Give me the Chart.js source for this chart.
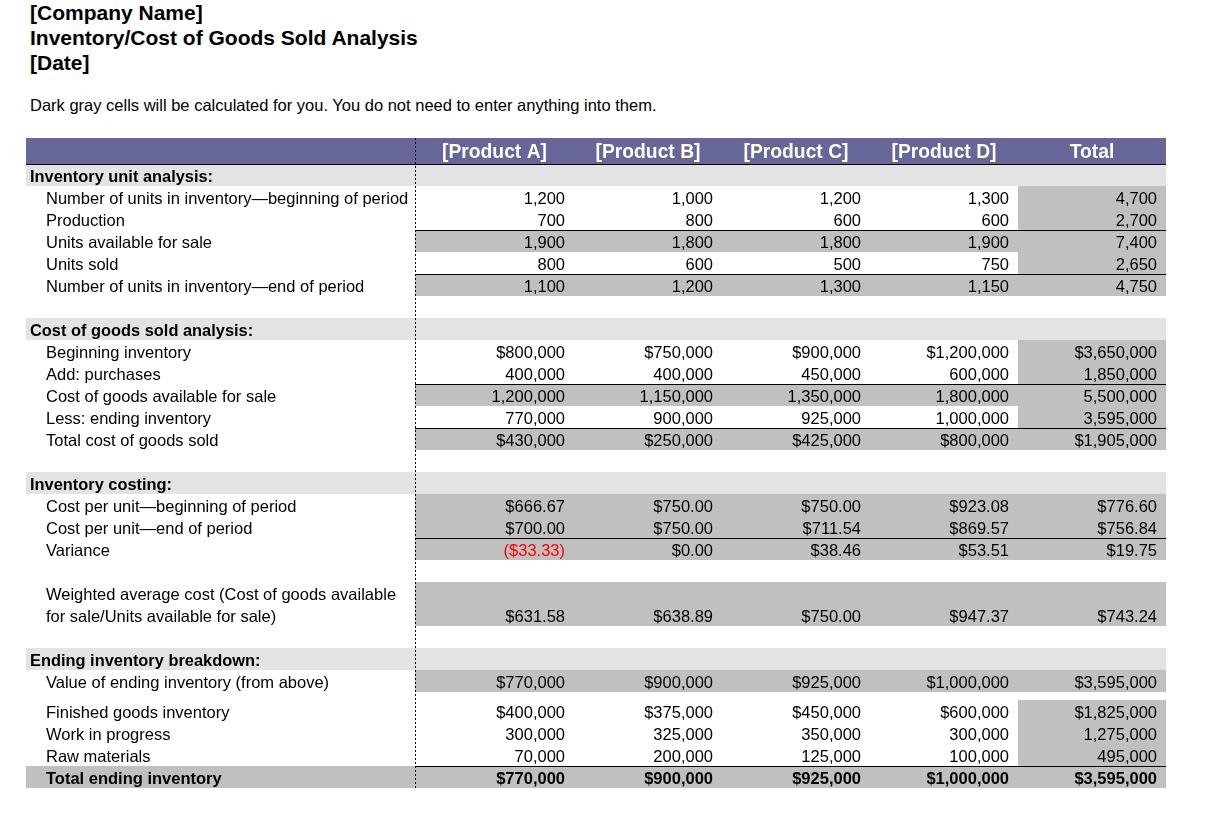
<!DOCTYPE html>
<html lang="en">
<head>
  <meta charset="UTF-8" />
  <title>Inventory/Cost of Goods Sold Analysis</title>
  <script src="https://cdn.jsdelivr.net/npm/chart.js"></script>
  <style>
    body {
      margin: 0;
      background: #fff;
      color: #000;
      font-family: 'Liberation Sans', Arial, sans-serif;
    }
    .heading {
      position: absolute;
      left: 30px;
      top: 0;
      font-size: 21px;
      font-weight: bold;
      line-height: 25px;
    }
    .note {
      position: absolute;
      left: 30px;
      top: 95px;
      font-size: 16.5px;
      line-height: 20px;
    }
    .sheet {
      position: absolute;
      left: 25px;
      top: 137px;
      width: 1142px;
      height: 652px;
    }
  </style>
</head>
<body>

  <div class="heading">[Company Name]<br>Inventory/Cost of Goods Sold Analysis<br>[Date]</div>
  <div class="note">Dark gray cells will be calculated for you. You do not need to enter anything into them.</div>
  <div class="sheet"><canvas id="sheetChart"></canvas></div>

  <script>
    const products = ['[Product A]', '[Product B]', '[Product C]', '[Product D]', 'Total'];

    // inventory unit analysis
    const unitsBegin     = [1200, 1000, 1200, 1300, 4700];
    const production     = [700, 800, 600, 600, 2700];
    const unitsAvailable = [1900, 1800, 1800, 1900, 7400];
    const unitsSold      = [800, 600, 500, 750, 2650];
    const unitsEnd       = [1100, 1200, 1300, 1150, 4750];

    // cost of goods sold analysis
    const beginInventory = [800000, 750000, 900000, 1200000, 3650000];
    const purchases      = [400000, 400000, 450000, 600000, 1850000];
    const goodsAvailable = [1200000, 1150000, 1350000, 1800000, 5500000];
    const endInventory   = [770000, 900000, 925000, 1000000, 3595000];
    const costOfSales    = [430000, 250000, 425000, 800000, 1905000];

    // inventory costing
    const costBegin   = [666.67, 750.00, 750.00, 923.08, 776.60];
    const costEnd     = [700.00, 750.00, 711.54, 869.57, 756.84];
    const variance    = [-33.33, 0.00, 38.46, 53.51, 19.75];
    const weightedAvg = [631.58, 638.89, 750.00, 947.37, 743.24];

    // ending inventory breakdown
    const endValue      = [770000, 900000, 925000, 1000000, 3595000];
    const finishedGoods = [400000, 375000, 450000, 600000, 1825000];
    const workInProcess = [300000, 325000, 350000, 300000, 1275000];
    const rawMaterials  = [70000, 200000, 125000, 100000, 495000];
    const totalEnding   = [770000, 900000, 925000, 1000000, 3595000];

    // sheet layout (column edges and row heights, in sheet units)
    const colEdges = [0, 389, 548, 696, 844, 992, 1140];
    const ROW = 22;

    const PURPLE = '#666699';
    const LIGHT = '#e3e3e3';
    const GRAY = '#c0c0c0';
    const FONT = '"Liberation Sans", Arial, sans-serif';

    const rows = [
      { kind: 'header', h: 26 },
      { kind: 'section', h: ROW, label: 'Inventory unit analysis:' },
      { h: ROW, label: 'Number of units in inventory\u2014beginning of period', values: unitsBegin, fmt: 'int', fill: 'total' },
      { h: ROW, label: 'Production', values: production, fmt: 'int', fill: 'total' },
      { h: ROW, label: 'Units available for sale', values: unitsAvailable, fmt: 'int', fill: 'values', rule: true },
      { h: ROW, label: 'Units sold', values: unitsSold, fmt: 'int', fill: 'total' },
      { h: ROW, label: 'Number of units in inventory\u2014end of period', values: unitsEnd, fmt: 'int', fill: 'values', rule: true },
      { h: ROW },
      { kind: 'section', h: ROW, label: 'Cost of goods sold analysis:' },
      { h: ROW, label: 'Beginning inventory', values: beginInventory, fmt: 'usd', fill: 'total' },
      { h: ROW, label: 'Add: purchases', values: purchases, fmt: 'int', fill: 'total' },
      { h: ROW, label: 'Cost of goods available for sale', values: goodsAvailable, fmt: 'int', fill: 'values', rule: true },
      { h: ROW, label: 'Less: ending inventory', values: endInventory, fmt: 'int', fill: 'total' },
      { h: ROW, label: 'Total cost of goods sold', values: costOfSales, fmt: 'usd', fill: 'values', rule: true },
      { h: ROW },
      { kind: 'section', h: ROW, label: 'Inventory costing:' },
      { h: ROW, label: 'Cost per unit\u2014beginning of period', values: costBegin, fmt: 'cents', fill: 'values' },
      { h: ROW, label: 'Cost per unit\u2014end of period', values: costEnd, fmt: 'cents', fill: 'values' },
      { h: ROW, label: 'Variance', values: variance, fmt: 'cents', fill: 'values', rule: true },
      { h: ROW },
      { h: ROW * 2, label: ['Weighted average cost (Cost of goods available', 'for sale/Units available for sale)'], values: weightedAvg, fmt: 'cents', fill: 'values' },
      { h: ROW },
      { kind: 'section', h: ROW, label: 'Ending inventory breakdown:' },
      { h: ROW, label: 'Value of ending inventory (from above)', values: endValue, fmt: 'usd', fill: 'values' },
      { h: 8 },
      { h: ROW, label: 'Finished goods inventory', values: finishedGoods, fmt: 'usd', fill: 'total' },
      { h: ROW, label: 'Work in progress', values: workInProcess, fmt: 'int', fill: 'total' },
      { h: ROW, label: 'Raw materials', values: rawMaterials, fmt: 'int', fill: 'total' },
      { h: ROW, label: 'Total ending inventory', values: totalEnding, fmt: 'usd', fill: 'full', rule: true, bold: true }
    ];
    const sheetHeight = rows.reduce((s, r) => s + r.h, 0);

    function formatValue(v, fmt) {
      if (fmt === 'int') return v.toLocaleString('en-US');
      if (fmt === 'usd') return '$' + v.toLocaleString('en-US');
      const s = '$' + Math.abs(v).toFixed(2);
      return v < 0 ? '(' + s + ')' : s;
    }

    const sheetPlugin = {
      id: 'sheet',
      afterDraw(chart) {
        const ctx = chart.ctx;
        const xs = chart.scales.x, ys = chart.scales.y;
        const px = v => Math.round(xs.getPixelForValue(v));
        const py = v => Math.round(ys.getPixelForValue(v));
        const left = px(colEdges[0]);
        const right = px(colEdges[colEdges.length - 1]);
        const valueLeft = px(colEdges[1]);
        const totalLeft = px(colEdges[colEdges.length - 2]);

        ctx.save();
        let pos = 0;
        rows.forEach(row => {
          const top = py(pos), bottom = py(pos + row.h);
          pos += row.h;

          if (row.kind === 'header') {
            ctx.fillStyle = PURPLE;
            ctx.fillRect(left, top, right - left, bottom - top);
            ctx.fillStyle = '#fff';
            ctx.font = 'bold 19.3px ' + FONT;
            ctx.textAlign = 'center';
            ctx.textBaseline = 'middle';
            products.forEach((p, i) => {
              ctx.fillText(p, (px(colEdges[i + 1]) + px(colEdges[i + 2])) / 2, (top + bottom) / 2 + 2);
            });
            return;
          }
          if (row.kind === 'section') {
            ctx.fillStyle = LIGHT;
            ctx.fillRect(left, top, right - left, bottom - top);
          } else if (row.fill) {
            const from = row.fill === 'full' ? left : row.fill === 'values' ? valueLeft : totalLeft;
            ctx.fillStyle = GRAY;
            ctx.fillRect(from, top, right - from, bottom - top);
          }
          if (row.rule) {
            ctx.fillStyle = '#000';
            ctx.fillRect(valueLeft, top, right - valueLeft, 1);
          }
          if (!row.label) return;

          const cy = bottom - ROW / 2 + 2.5;
          ctx.textBaseline = 'middle';
          ctx.textAlign = 'left';
          ctx.fillStyle = '#000';
          if (row.kind === 'section') {
            ctx.font = 'bold 16.4px ' + FONT;
            ctx.fillText(row.label, left + 4, cy);
            return;
          }
          ctx.font = (row.bold ? 'bold ' : '') + '16.5px ' + FONT;
          const lines = Array.isArray(row.label) ? row.label : [row.label];
          lines.forEach((t, i) => ctx.fillText(t, left + 20, cy - (lines.length - 1 - i) * ROW));

          ctx.textAlign = 'right';
          row.values.forEach((v, i) => {
            ctx.fillStyle = v < 0 ? '#ff0000' : '#000';
            ctx.fillText(formatValue(v, row.fmt), px(colEdges[i + 2]) - 9, cy);
          });
        });

        // header underline and dotted divider after the label column
        ctx.fillStyle = '#000';
        ctx.fillRect(left, py(rows[0].h), right - left, 1);
        for (let y = py(0); y < py(sheetHeight); y += 4) {
          ctx.fillRect(valueLeft, y, 1, 2);
        }
        ctx.restore();
      }
    };

    const sheetChart = new Chart(document.getElementById('sheetChart'), {
      type: 'scatter',
      data: { datasets: [] },
      options: {
        responsive: true,
        maintainAspectRatio: false,
        animation: false,
        layout: { padding: { left: 1, right: 1, top: 1, bottom: 1 } },
        plugins: { legend: { display: false }, tooltip: { enabled: false } },
        scales: {
          x: { type: 'linear', min: 0, max: colEdges[colEdges.length - 1], display: false },
          y: { type: 'linear', min: 0, max: sheetHeight, reverse: true, display: false }
        }
      },
      plugins: [sheetPlugin]
    });
  </script>

</body>
</html>
